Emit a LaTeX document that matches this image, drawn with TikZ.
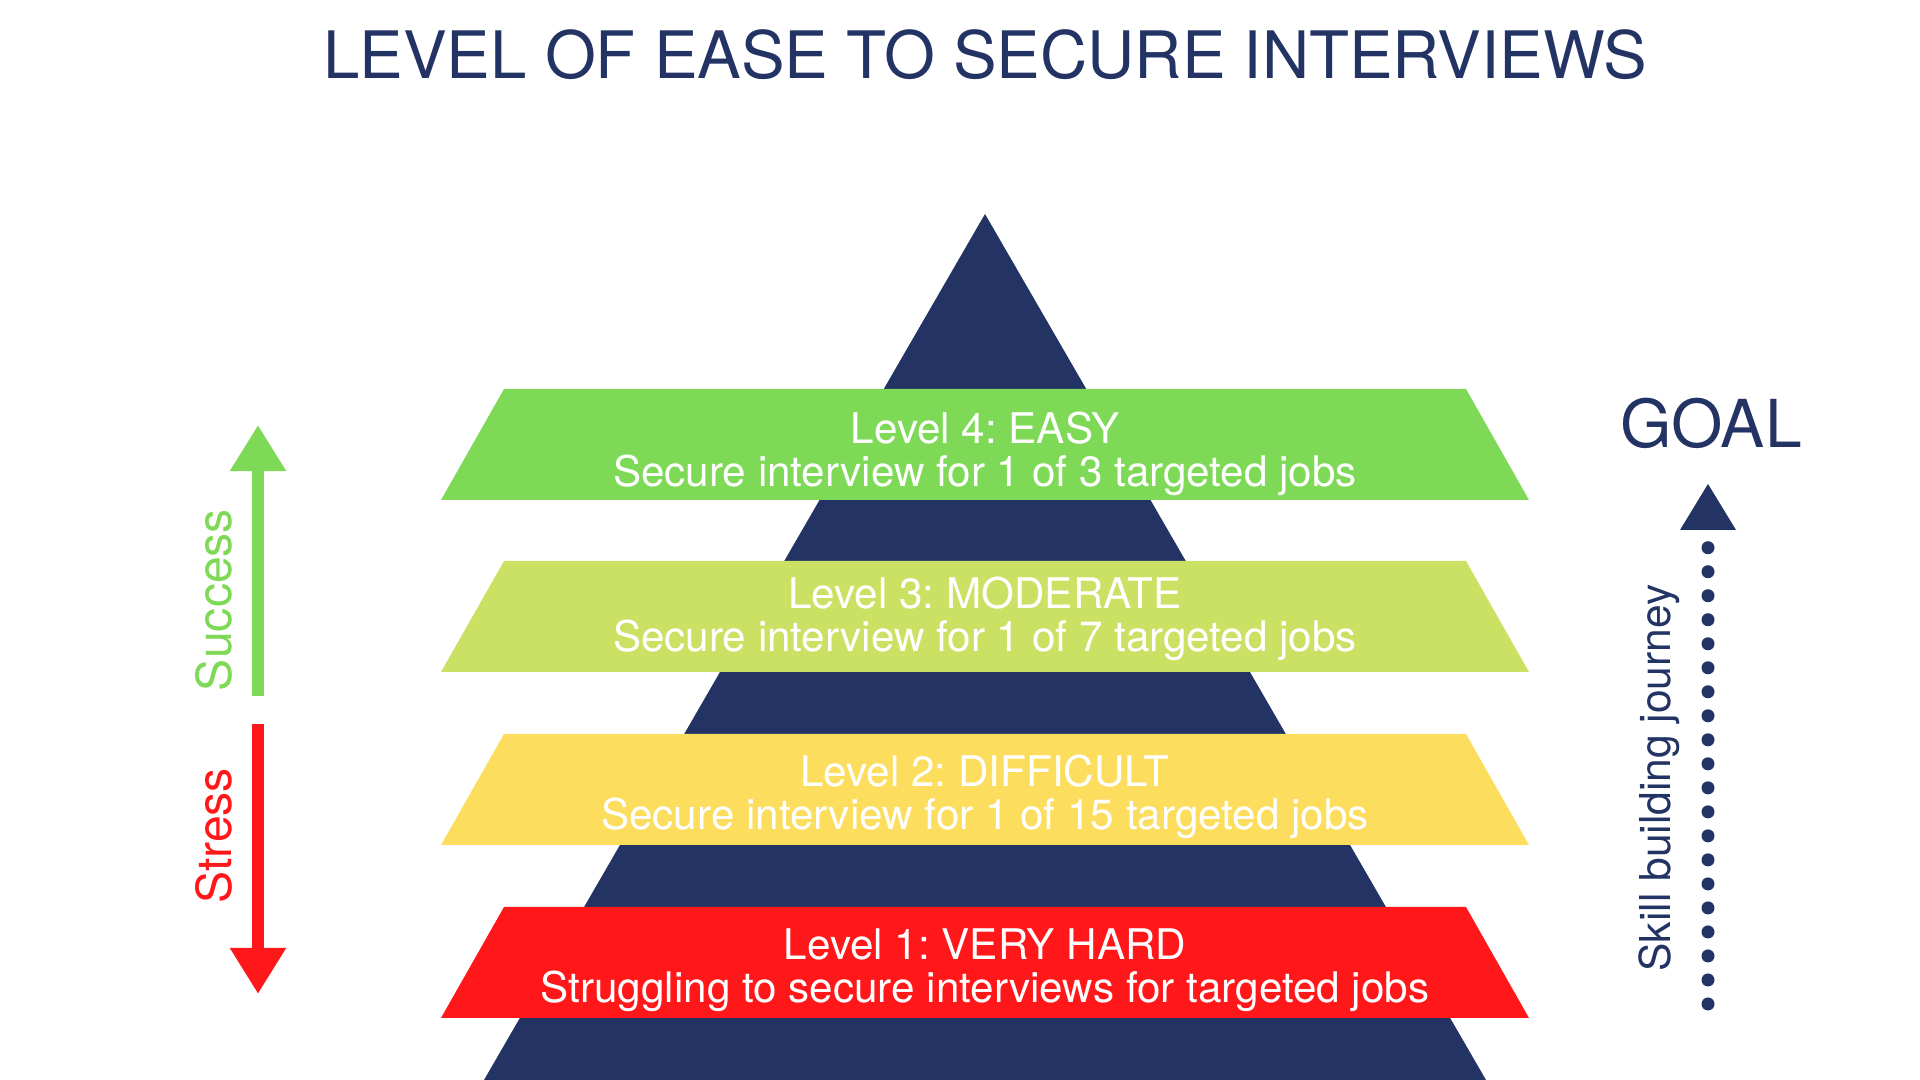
\documentclass[tikz,border=0pt]{standalone}
\usepackage{fontspec}
\setmainfont{TeX Gyre Heros}
\usetikzlibrary{arrows.meta}
\frenchspacing

\definecolor{navy}{RGB}{35,52,100}
\definecolor{easygreen}{RGB}{126,217,87}
\definecolor{modgreen}{RGB}{203,225,100}
\definecolor{diffyellow}{RGB}{253,221,93}
\definecolor{hardred}{RGB}{255,23,26}

\tikzset{
  heading/.style={text=navy, font=\fontsize{18.6}{20}\selectfont},
  bandtext/.style={text=white, align=center, font=\fontsize{12}{12.3}\selectfont},
  sidetext/.style={rotate=90, font=\fontsize{13.7}{15}\selectfont},
  bigarrow/.style={line width=0.12cm, -{Triangle[length=0.46cm,width=0.53cm]}},
  journey/.style={navy, line width=0.13cm, line cap=round, dash pattern=on 0pt off 0.24cm},
}

\begin{document}
\begin{tikzpicture}[x=0.01cm,y=0.01cm]
\useasboundingbox (0,0) rectangle (1920,1080);

\node[heading] (title) at (985,1025) {LEVEL OF EASE TO SECURE INTERVIEWS};

% pyramid behind the levels
\fill[navy] (484,0) -- (985,866) -- (1486,0) -- cycle;

\fill[easygreen] (441,580) -- (504,691) -- (1466,691) -- (1529,580) -- cycle;
\node[bandtext] (lvl4) at (985,626) {Level 4: EASY\\Secure interview for 1 of 3 targeted jobs};

\fill[modgreen] (441,408) -- (504,519) -- (1466,519) -- (1529,408) -- cycle;
\node[bandtext] (lvl3) at (985,461) {Level 3: MODERATE\\Secure interview for 1 of 7 targeted jobs};

\fill[diffyellow] (441,235) -- (504,346) -- (1466,346) -- (1529,235) -- cycle;
\node[bandtext] (lvl2) at (985,283) {Level 2: DIFFICULT\\Secure interview for 1 of 15 targeted jobs};

\fill[hardred] (441,62) -- (504,173) -- (1466,173) -- (1529,62) -- cycle;
\node[bandtext] (lvl1) at (985,110) {Level 1: VERY HARD\\Struggling to secure interviews for targeted jobs};

% left side
\coordinate (succ0) at (258,384);
\coordinate (succ1) at (258,655);
\draw[bigarrow, easygreen] (succ0) -- (succ1);
\node[sidetext, text=easygreen] (success) at (214,480) {Success};

\coordinate (stress0) at (258,356);
\coordinate (stress1) at (258,86);
\draw[bigarrow, hardred] (stress0) -- (stress1);
\node[sidetext, text=hardred] (stress) at (214,244) {Stress};

% right side
\node[text=navy, font=\fontsize{18.8}{20}\selectfont] (goal) at (1711,657) {GOAL};
\fill[navy] (1680,550) -- (1708,596) -- (1736,550) -- cycle;
\coordinate (jbot) at (1708,76);
\coordinate (jtop) at (1708,533);
\draw[journey] (jbot) -- (jtop);
\node[rotate=90, text=navy, font=\fontsize{12.1}{13}\selectfont] (skill) at (1659,302) {Skill building journey};
\end{tikzpicture}
\end{document}
